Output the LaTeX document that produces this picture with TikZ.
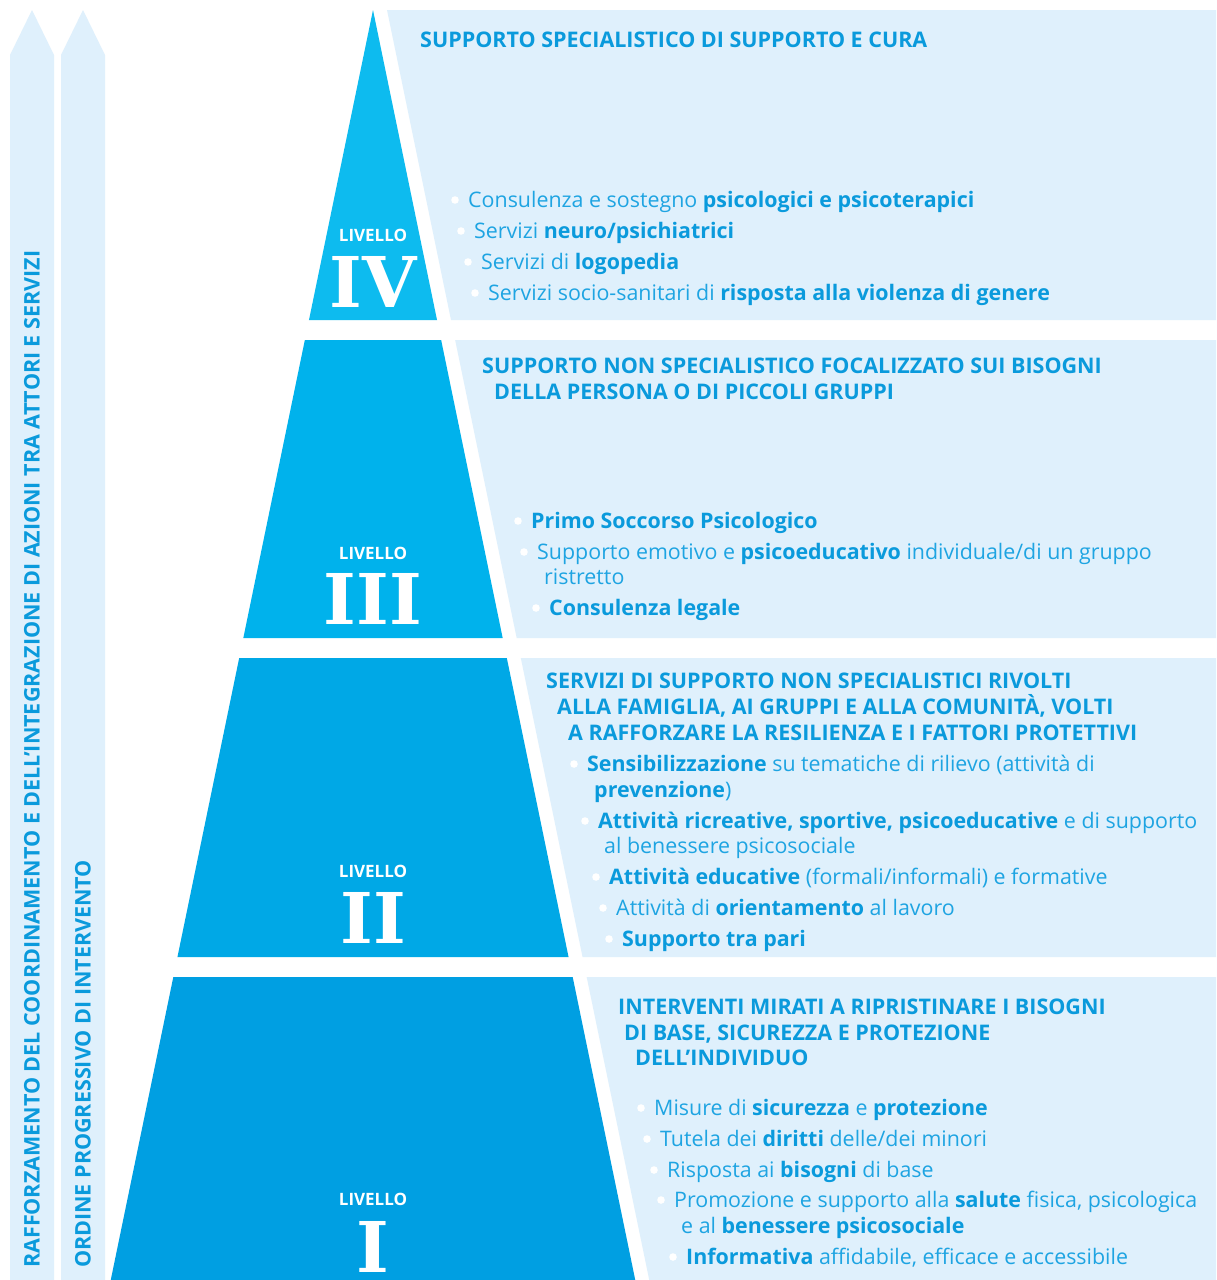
\documentclass[tikz,border=0pt]{standalone}
\usepackage{fontspec}
\setmainfont{Open Sans}
\newfontfamily\numfont{DejaVu Serif}
\definecolor{panel}{HTML}{DFF0FC}
\definecolor{lv4}{HTML}{0DBBEF}
\definecolor{lv3}{HTML}{00B2EC}
\definecolor{lv2}{HTML}{00A8E6}
\definecolor{lv1}{HTML}{009FE2}
\definecolor{tdark}{HTML}{0A9ADC}
\definecolor{tlight}{HTML}{1EA4E2}
\newcommand\hb[1]{{\bfseries\color{tdark}#1}}
\newcommand\dotb{\hspace{17pt}}
\begin{document}
\begin{tikzpicture}
            [x=1pt,y=-1pt,
             lvl/.style={inner sep=0,text=white,font=\bfseries\fontsize{17}{17}\selectfont},
             num/.style={inner sep=0,text height=52pt,text depth=0pt,text=white,font=\numfont\bfseries\fontsize{70}{70}\selectfont},
             head/.style={anchor=west,inner sep=0,text height=15pt,text depth=0pt,text=tdark,font=\bfseries\fontsize{21.5}{21.5}\selectfont},
             item/.style={anchor=west,inner sep=0,text height=15.5pt,text depth=0pt,text=tlight,font=\fontsize{21.4}{21.4}\selectfont},
             side/.style={anchor=west,rotate=90,inner sep=0,text height=15pt,text depth=0pt,text=tdark,font=\bfseries\fontsize{21.5}{21.5}\selectfont}]
            \fill[white] (0,0) rectangle (1216,1280);
            \useasboundingbox (0,0) rectangle (1216,1280);

            % arrows on the left
            \fill[panel] (10,1280) -- (10,55) -- (32,10) -- (54,55) -- (54,1280) -- cycle;
            \fill[panel] (61,1280) -- (61,55) -- (83,10) -- (105,55) -- (105,1280) -- cycle;
            \node[side] (s1) at (32,1268) {RAFFORZAMENTO DEL COORDINAMENTO E DELL’INTEGRAZIONE DI AZIONI TRA ATTORI E SERVIZI};
            \node[side] (s2) at (83,1268) {ORDINE PROGRESSIVO DI INTERVENTO};

            % pyramid and panels
            \foreach \c/\ya/\yb in {lv4/10/320, lv3/340/638, lv2/658/957, lv1/977/1280} {
              \fill[\c] ({373-0.2065*(\ya-10)},\ya) -- ({373+0.2065*(\ya-10)},\ya) -- ({373+0.2065*(\yb-10)},\yb) -- ({373-0.2065*(\yb-10)},\yb) -- cycle;
              \fill[panel] ({387+0.2065*(\ya-10)},\ya) -- (1216,\ya) -- (1216,\yb) -- ({387+0.2065*(\yb-10)},\yb) -- cycle;
            }

            \node[lvl] (l4) at (373,235) {LIVELLO};
            \node[num] (n4) at (373,281) {IV};
            \node[lvl] (l3) at (373,553) {LIVELLO};
            \node[num] (n3) at (373,598) {III};
            \node[lvl] (l2) at (373,871) {LIVELLO};
            \node[num] (n2) at (373,917) {II};
            \node[lvl] (l1) at (373,1199) {LIVELLO};
            \node[num] (n1) at (373,1246) {I};

            % level IV
            \node[head] (h4) at (420,40) {SUPPORTO SPECIALISTICO DI SUPPORTO E CURA};
            \node[item] (i4a) at (451,200) {\dotb Consulenza e sostegno \hb{psicologici e psicoterapici}};
            \node[item] (i4b) at (457,231) {\dotb Servizi \hb{neuro/psichiatrici}};
            \node[item] (i4c) at (464,262) {\dotb Servizi di \hb{logopedia}};
            \node[item] (i4d) at (471,293) {\dotb Servizi socio-sanitari di \hb{risposta alla violenza di genere}};

            % level III
            \node[head] (h3a) at (482,366) {SUPPORTO NON SPECIALISTICO FOCALIZZATO SUI BISOGNI};
            \node[head] (h3b) at (494,392) {DELLA PERSONA O DI PICCOLI GRUPPI};
            \node[item] (i3a) at (514,521) {\dotb \hb{Primo Soccorso Psicologico}};
            \node[item] (i3b) at (520,552) {\dotb Supporto emotivo e \hb{psicoeducativo} individuale/di un gruppo};
            \node[item] (i3c) at (544,577) {ristretto};
            \node[item] (i3d) at (532,608) {\dotb \hb{Consulenza legale}};

            % level II
            \node[head] (h2a) at (546,681) {SERVIZI DI SUPPORTO NON SPECIALISTICI RIVOLTI};
            \node[head] (h2b) at (557,707) {ALLA FAMIGLIA, AI GRUPPI E ALLA COMUNITÀ, VOLTI};
            \node[head] (h2c) at (568,733) {A RAFFORZARE LA RESILIENZA E I FATTORI PROTETTIVI};
            \node[item] (i2a) at (570,764) {\dotb \hb{Sensibilizzazione} su tematiche di rilievo (attività di};
            \node[item] (i2b) at (594,790) {\hb{prevenzione})};
            \node[item] (i2c) at (581,821) {\dotb \hb{Attività ricreative, sportive, psicoeducative} e di supporto};
            \node[item] (i2d) at (604,846) {al benessere psicosociale};
            \node[item] (i2e) at (592,877) {\dotb \hb{Attività educative} (formali/informali) e formative};
            \node[item] (i2f) at (599,908) {\dotb Attività di \hb{orientamento} al lavoro};
            \node[item] (i2g) at (605,939) {\dotb \hb{Supporto tra pari}};

            % level I
            \node[head] (h1a) at (618,1007) {INTERVENTI MIRATI A RIPRISTINARE I BISOGNI};
            \node[head] (h1b) at (624,1033) {DI BASE, SICUREZZA E PROTEZIONE};
            \node[head] (h1c) at (635,1058) {DELL’INDIVIDUO};
            \node[item] (i1a) at (637,1108) {\dotb Misure di \hb{sicurezza} e \hb{protezione}};
            \node[item] (i1b) at (643,1139) {\dotb Tutela dei \hb{diritti} delle/dei minori};
            \node[item] (i1c) at (650,1170) {\dotb Risposta ai \hb{bisogni} di base};
            \node[item] (i1d) at (657,1200) {\dotb Promozione e supporto alla \hb{salute} fisica, psicologica};
            \node[item] (i1e) at (681,1226) {e al \hb{benessere psicosociale}};
            \node[item] (i1f) at (669,1257) {\dotb \hb{Informativa} affidabile, efficace e accessibile};

            % white bullets
            \foreach \n in {i4a, i4b, i4c, i4d, i3a, i3b, i3d, i2a, i2c, i2e, i2f, i2g, i1a, i1b, i1c, i1d, i1f}
              \fill[white] ([xshift=4pt]\n.west) circle (3.8pt);
        \end{tikzpicture}
\end{document}
